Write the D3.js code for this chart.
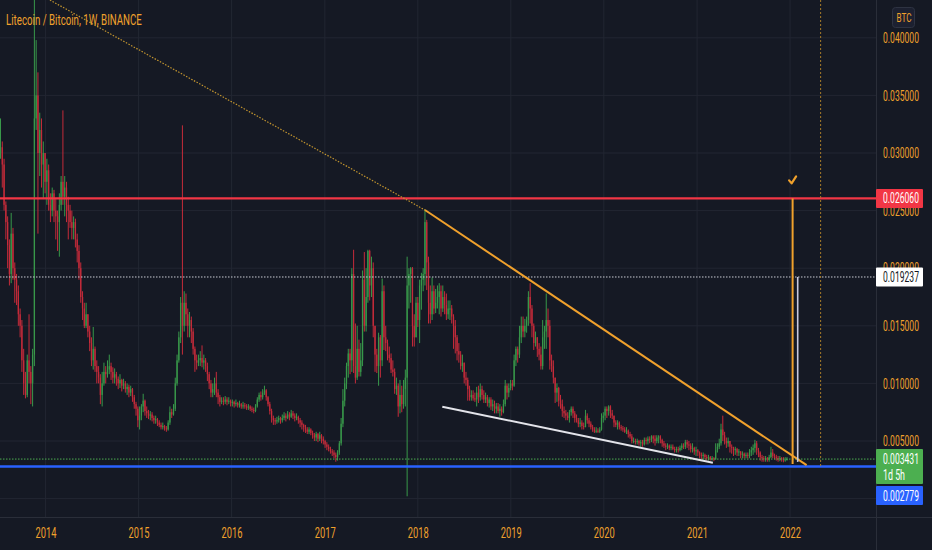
<!DOCTYPE html>
<html>
<head>
<meta charset="utf-8">
<script src="https://cdn.jsdelivr.net/npm/d3@7"></script>
<style>
  html, body { margin: 0; padding: 0; background: #151924; }
  svg { display: block; }
</style>
</head>
<body>
<svg id="chart" width="932" height="550"></svg>
<script>
// Weekly LTC/BTC candles, prices in units of 0.0001 BTC.
// First candle is the week of 2013-07-08, open of each week = previous close.
const firstWeek = '2013-07-08';
const firstOpen = 300;
const closes = [
  305,290,255,240,220,195,230,200,190,180, 160,150,120,100,90,120,110,100,125,330,
  350,300,320,290,300,275,285,255,250,265, 250,245,240,255,275,262,270,255,250,240,
  235,240,225,215,200,175,165,150,160,145, 135,120,130,115,110,105,90,100,110,108,
  112,115,110,105,108,104,100,103,98,100, 95,97,92,95,88,82,78,68,72,80,
  85,76,74,72,73,70,68,69,66,64, 62,63,61,60,66,75,73,78,100,120,
  140,170,150,170,160,150,155,145,130,120, 118,120,122,118,120,115,108,100,92,95,
  100,92,88,84,85,84,86,84,85,83, 84,82,83,81,82,80,81,80,79,80,
  78,77,76,80,86,90,88,92,94,88, 82,76,70,68,67,68,70,68,70,72,
  70,73,71,74,72,70,71,68,66,64, 62,60,58,60,57,55,53,56,52,55,
  52,50,47,45,43,41,40,38,36,40, 48,65,85,100,115,126,120,195,115,105,
  130,110,120,190,150,175,215,185,200,150, 125,115,140,120,180,140,135,125,122,112,
  110,95,98,80,90,82,95,105,185,195, 200,150,140,170,155,185,190,195,240,205,
  170,160,180,165,170,175,180,165,175,168, 160,165,165,158,150,140,128,125,115,118,
  105,103,95,88,90,87,86,92,88,95, 90,86,88,83,86,80,82,78,80,76,
  78,75,82,98,92,96,100,98,120,130, 125,140,150,145,150,155,175,165,150,135,
  140,130,125,115,140,145,155,150,120,115, 105,92,96,85,82,76,74,72,70,75,
  78,74,70,68,65,66,63,62,72,68, 65,62,60,58,59,58,60,70,72,78,
  76,80,74,72,66,64,66,62,61,60, 58,59,56,54,50,50,49,50,48,49,
  47,51,50,52,51,54,52,50,53,54, 51,48,46,45,46,44,45,43,42,43,
  42,44,46,45,49,47,46,43,44,41, 42,40,38,37,38,36,35,36,34,35,
  34,42,45,48,60,55,50,48,50,45, 44,42,43,40,41,38,39,37,38,37,
  40,42,44,48,42,40,36,35,34,35, 34,36,40,37,36,35,34,35,34,33,
  34,34.31
];
const highs = [
  330,310,295,258,245,225,248,235,205,195, 185,165,155,130,110,125,160,115,130,520,
  398,370,335,330,310,300,295,290,265,270, 268,260,250,265,280,337,280,275,262,255,
  250,245,243,230,220,205,180,170,170,160, 150,140,149,132,120,115,108,110,118,115,
  120,125,118,114,113,110,106,108,104,104, 102,100,99,98,96,90,84,80,80,82,
  91,86,80,77,76,75,72,72,70,68, 66,66,64,63,68,80,78,82,105,125,
  145,175,324,180,178,165,162,158,148,132, 125,125,128,133,125,122,118,110,103,100,
  105,110,95,90,88,88,89,88,88,86, 86,85,86,84,85,83,84,83,82,82,
  81,80,79,82,88,92,93,95,98,95, 89,84,78,72,70,71,72,71,73,75,
  74,76,75,77,76,74,74,72,70,68, 65,64,62,62,61,59,57,58,57,58,
  56,54,51,49,47,45,43,42,40,42, 50,70,95,105,118,130,130,200,216,152,
  150,138,135,198,214,200,216,216,210,205, 150,130,144,142,191,185,150,138,132,126,
  120,113,105,100,103,98,103,112,210,200, 201,201,160,175,175,190,196,200,251,242,
  210,185,192,185,182,185,187,185,185,180, 178,172,172,168,160,155,142,135,128,125,
  118,110,105,98,94,94,92,97,98,100, 98,94,92,90,88,88,86,85,83,83,
  82,80,86,103,100,100,103,103,125,132, 132,150,158,158,156,158,180,187,168,152,
  145,140,135,132,155,150,178,165,155,125, 120,105,100,97,90,86,80,77,75,77,
  80,80,76,73,70,70,68,66,77,74, 70,67,64,62,62,61,62,74,75,80,
  80,81,81,77,72,68,68,67,64,63, 62,62,60,58,56,53,52,52,51,51,
  51,53,53,54,54,55,55,55,55,55, 55,52,50,48,48,47,47,47,45,45,
  45,46,48,48,51,51,50,48,48,45, 45,43,41,40,40,39,38,38,37,37,
  36,48,48,52,65,72,58,53,53,50, 47,45,45,44,43,41,41,40,40,40,
  43,45,47,51,50,44,41,38,37,37, 36,38,45,43,39,38,37,37,36,36,
  36,36
];
const lows = [
  295,270,250,225,200,185,187,190,170,168, 150,140,110,90,87,88,100,82,80,115,
  320,230,280,270,260,265,255,250,240,245, 240,225,215,210,250,255,245,240,225,235,
  225,225,218,205,190,170,155,148,148,140, 128,115,112,110,100,100,82,80,98,100,
  105,108,103,100,100,98,95,96,93,95, 92,90,88,89,84,78,72,62,60,68,
  75,72,70,69,68,67,65,65,63,62, 60,60,59,58,59,64,70,72,76,98,
  118,135,125,145,150,140,140,135,125,110, 112,115,115,114,112,110,102,95,88,88,
  90,88,82,80,82,81,82,81,82,80, 80,79,80,79,79,78,78,78,77,77,
  76,75,74,75,79,84,85,86,90,85, 80,73,66,64,64,65,66,65,66,68,
  67,69,68,70,69,67,68,65,62,60, 58,57,56,56,55,52,50,50,49,50,
  48,47,44,42,41,39,37,35,32,33, 38,46,62,80,95,105,108,110,109,100,
  103,106,106,115,145,145,170,172,175,140, 110,109,98,105,115,129,128,120,118,109,
  106,91,90,71,74,75,78,80,2,165, 170,132,132,140,149,135,164,180,185,181,
  152,152,155,160,161,165,160,158,162,160, 155,156,155,152,130,126,120,118,112,110,
  100,98,85,85,85,85,84,80,83,85, 86,83,83,80,79,77,76,74,74,74,
  71,72,74,80,86,88,94,94,97,115, 118,122,135,140,140,144,150,152,140,129,
  132,123,120,112,112,130,130,140,112,110, 100,83,84,80,78,71,70,68,68,66,
  72,70,66,66,62,62,60,60,62,65, 62,60,58,57,57,57,57,59,66,68,
  70,72,70,69,62,62,60,60,59,58, 57,56,53,52,48,48,47,47,46,45,
  45,46,47,47,48,49,48,46,48,48, 48,45,44,42,43,42,42,42,40,40,
  40,41,42,43,43,44,42,40,40,38, 37,37,35,34,34,34,33,33,33,33,
  32.5,34,40,43,46,50,47,44,45,40, 39,37,38,37,37,35,35,35,35,35,
  35,37,38,40,38,36,33,32,32,32, 32,32,35,35,34,33,32,32.5,32,31.5,
  32,33
];
const unit = 0.0001;

// axis ticks (0.000000 sits under the blue tag, so it gets a grid line only)
const gridTicks = [0, 0.005, 0.01, 0.015, 0.02, 0.025, 0.03, 0.035, 0.04];
const priceTicks = [0.005, 0.01, 0.015, 0.02, 0.025, 0.03, 0.035, 0.04];
const yearTicks = ['2014', '2015', '2016', '2017', '2018', '2019', '2020', '2021', '2022'];

// levels and drawings
const resistance = 0.02606;
const support = 0.002779;
const lastPrice = 0.003431;
const markPrice = 0.019237;
const countdown = '1d 5h';
const trendTop = [['2018-01-29', 0.02505], ['2022-03-07', 0.0029]];
const trendOld = [['2014-01-18', 0.04328], ['2018-01-29', 0.02505]];
const trendLow = [['2018-04-07', 0.007977], ['2021-03-04', 0.003116]];
const targetMove = [['2022-01-11', resistance], ['2022-01-11', 0.0030]];
const halfMove = [['2022-01-31', markPrice], ['2022-01-31', 0.00318]];
const markDate = '2022-05-01';

const W = 932, H = 550, plotR = 876, plotB = 517;
const bg = '#151924', grid = '#222632', axisLine = '#2a2e39';
const orange = '#f0a12c', up = '#38984a', down = '#c52b3a';
const font = 'Roboto, "DejaVu Sans", sans-serif';

// the reference text is narrow: squeeze each label horizontally to a given width
function squeeze(sel, width) {
  sel.each(function () {
    const len = this.getComputedTextLength();
    if (!len) return;
    const s = width / len;
    const ax = +this.getAttribute('x') || 0;
    this.setAttribute('transform', `translate(${ax * (1 - s)},0) scale(${s},1)`);
  });
}

const parse = d3.utcParse('%Y-%m-%d');
const d0 = parse(firstWeek);
const candles = closes.map((c, i) => ({
  date: d3.utcDay.offset(d0, 7 * i),
  o: (i ? closes[i - 1] : firstOpen) * unit,
  c: c * unit, h: highs[i] * unit, l: lows[i] * unit
}));

const x = d3.scaleUtc().domain([d0, candles[candles.length - 1].date]).range([0.5, 787]);
const y = d3.scaleLinear().domain([0, 0.04]).range([498.6, 37.8]);

const svg = d3.select('#chart');
svg.append('rect').attr('width', W).attr('height', H).attr('fill', bg);
svg.append('defs').append('clipPath').attr('id', 'plot')
  .append('rect').attr('width', plotR).attr('height', plotB);

// grid
const gridG = svg.append('g').attr('clip-path', 'url(#plot)');
gridG.selectAll('.hg').data(gridTicks).join('line').attr('class', 'hg')
  .attr('x1', 0).attr('x2', plotR).attr('y1', d => y(d)).attr('y2', d => y(d))
  .attr('stroke', grid);
gridG.selectAll('.vg').data(yearTicks).join('line').attr('class', 'vg')
  .attr('x1', d => x(parse(d + '-01-01'))).attr('x2', d => x(parse(d + '-01-01')))
  .attr('y1', 0).attr('y2', plotB).attr('stroke', grid);

// candles
const cg = svg.append('g').attr('clip-path', 'url(#plot)');
const col = d => d.c >= d.o ? up : down;
cg.selectAll('.wick').data(candles).join('line').attr('class', 'wick')
  .attr('x1', d => x(d.date)).attr('x2', d => x(d.date))
  .attr('y1', d => y(d.h)).attr('y2', d => y(d.l))
  .attr('stroke', col).attr('stroke-width', 1);
cg.selectAll('.body').data(candles).join('rect').attr('class', 'body')
  .attr('x', d => x(d.date) - 0.65).attr('width', 1.3)
  .attr('y', d => y(Math.max(d.o, d.c)))
  .attr('height', d => Math.max(1, y(Math.min(d.o, d.c)) - y(Math.max(d.o, d.c))))
  .attr('fill', col);

// drawings
const dg = svg.append('g').attr('clip-path', 'url(#plot)');
const line = d3.line().x(d => x(parse(d[0]))).y(d => y(d[1]));
const hline = (v, color, w, dash) => dg.append('line')
  .attr('x1', 0).attr('x2', plotR).attr('y1', y(v)).attr('y2', y(v))
  .attr('stroke', color).attr('stroke-width', w).attr('stroke-dasharray', dash || null);

hline(markPrice, '#c9cbd3', 1, '1.5,1.5');
hline(lastPrice, '#4caf50', 1, '1.5,1.5');
hline(resistance, '#f23645', 2.2);
hline(support, '#2962ff', 2.5);

dg.append('line')
  .attr('x1', x(parse(markDate))).attr('x2', x(parse(markDate)))
  .attr('y1', 0).attr('y2', y(support))
  .attr('stroke', '#a77c2a').attr('stroke-dasharray', '2,2');
dg.append('path').attr('d', line(trendOld)).attr('fill', 'none')
  .attr('stroke', '#c3952f').attr('stroke-width', 1.2).attr('stroke-dasharray', '1.5,1.5');
dg.append('path').attr('d', line(trendTop)).attr('fill', 'none')
  .attr('stroke', orange).attr('stroke-width', 2);
dg.append('path').attr('d', line(trendLow)).attr('fill', 'none')
  .attr('stroke', '#e3e4ea').attr('stroke-width', 2);
dg.append('path').attr('d', line(targetMove)).attr('fill', 'none')
  .attr('stroke', orange).attr('stroke-width', 2);
dg.append('path').attr('d', line(halfMove)).attr('fill', 'none')
  .attr('stroke', '#c8cadf').attr('stroke-width', 1.6);

// check mark above the target line
const cx = x(parse(targetMove[0][0])), cy = y(resistance) - 18;
dg.append('path')
  .attr('d', `M${cx - 3.5},${cy} L${cx - 1},${cy + 3} L${cx + 3.5},${cy - 4}`)
  .attr('fill', 'none').attr('stroke', orange).attr('stroke-width', 2.2)
  .attr('stroke-linecap', 'round').attr('stroke-linejoin', 'round');

// axis frame
svg.append('line').attr('x1', plotR + 0.5).attr('x2', plotR + 0.5).attr('y1', 0).attr('y2', H)
  .attr('stroke', axisLine);
svg.append('line').attr('x1', 0).attr('x2', W).attr('y1', plotB + 0.5).attr('y2', plotB + 0.5)
  .attr('stroke', axisLine);

// right price axis
const yAxis = svg.append('g').attr('transform', `translate(${plotR},0)`)
  .call(d3.axisRight(y).tickValues(priceTicks).tickFormat(d3.format('.6f')).tickSize(0).tickPadding(7));
yAxis.select('.domain').remove();
yAxis.selectAll('text').attr('fill', orange).attr('font-family', font).attr('font-size', 14.5)
  .call(squeeze, 36);

// bottom time axis
const xAxis = svg.append('g').attr('transform', `translate(0,${plotB})`)
  .call(d3.axisBottom(x).tickValues(yearTicks.map(t => parse(t + '-01-01')))
    .tickFormat(d3.utcFormat('%Y')).tickSize(0).tickPadding(11));
xAxis.select('.domain').remove();
xAxis.selectAll('text').attr('fill', orange).attr('font-family', font).attr('font-size', 14)
  .call(squeeze, 21);

// price tags on the axis
function tag(top, h, fill, color, lines) {
  const g = svg.append('g');
  g.append('rect').attr('x', plotR).attr('y', top).attr('width', 47).attr('height', h)
    .attr('fill', fill).attr('rx', 1);
  lines.forEach((t, i) => {
    g.append('text').attr('x', 883).attr('y', top + 14.5 + i * 16).text(t[0])
      .attr('fill', color).attr('font-family', font).attr('font-size', 14.5)
      .call(squeeze, t[1]);
  });
}
const fmt = d3.format('.6f');
tag(y(resistance) - 9.5, 19, '#f23645', '#ffffff', [[fmt(resistance), 36]]);
tag(y(markPrice) - 9.5, 19, '#ffffff', '#131722', [[fmt(markPrice), 36]]);
const greenTop = y(lastPrice) - 10;
tag(greenTop, 35, '#4caf50', '#ffffff', [[fmt(lastPrice), 36], [countdown, 22]]);
tag(greenTop + 37, 19, '#2962ff', '#ffffff', [[fmt(support), 36]]);

// currency badge
svg.append('rect').attr('x', 892.5).attr('y', 7.5).attr('width', 22).attr('height', 20).attr('rx', 3)
  .attr('fill', '#1c2030').attr('stroke', '#2e3342');
svg.append('text').attr('x', 896.5).attr('y', 22).text('BTC')
  .attr('fill', orange).attr('font-family', font).attr('font-size', 12)
  .call(squeeze, 15);

// title
svg.append('text').attr('x', 6).attr('y', 25).text('Litecoin / Bitcoin, 1W, BINANCE')
  .attr('fill', orange).attr('font-family', font).attr('font-size', 15)
  .call(squeeze, 136);
</script>
</body>
</html>
